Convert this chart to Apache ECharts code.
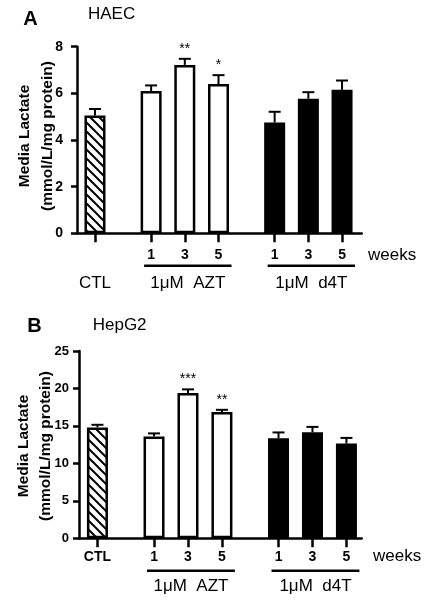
<!DOCTYPE html>
<html>
<head>
<meta charset="utf-8">
<script src="https://cdn.jsdelivr.net/npm/echarts@6/dist/echarts.min.js"></script>
<style>
html,body{margin:0;padding:0;background:#fff;}
#chart{width:433px;height:608px;}
</style>
</head>
<body>
<div id="chart"></div>
<script>
// ---- data ----
const categories = ['CTL', '1', '3', '5', '1', '3', '5'];
const groups = ['CTL', 'AZT', 'AZT', 'AZT', 'd4T', 'd4T', 'd4T'];
const groupLabels = {AZT: '1\u03bcM  AZT', d4T: '1\u03bcM  d4T'};
const haecMean = [5.05, 6.1, 7.22, 6.4, 4.75, 5.77, 6.15];
const haecSem = [0.28, 0.24, 0.26, 0.38, 0.46, 0.28, 0.4];
const haecStars = ['', '', '**', '*', '', '', ''];
const hepMean = [14.8, 13.6, 19.4, 16.85, 13.35, 14.15, 12.65];
const hepSem = [0.35, 0.4, 0.48, 0.3, 0.78, 0.72, 0.75];
const hepStars = ['', '', '***', '**', '', '', ''];
const haecTicks = [0, 2, 4, 6, 8];
const hepTicks = [0, 5, 10, 15, 20, 25];

// ---- layout helpers ----
const FONT = '"Liberation Sans", Arial, Helvetica, sans-serif';
const GROUP_GAP = 5, STEP = 3;
const pos = [];
groups.forEach((g, i) => {
  if (i === 0) { pos.push(0); return; }
  const prev = pos[i - 1];
  pos.push(groups[i] === groups[i - 1] ? prev + STEP : prev + GROUP_GAP);
});

const hatch = document.createElement('canvas');
hatch.width = 9; hatch.height = 9;
(function () {
  const c = hatch.getContext('2d');
  c.fillStyle = '#fff'; c.fillRect(0, 0, 9, 9);
  c.strokeStyle = '#000'; c.lineWidth = 2;
  [-9, 0, 9].forEach(k => { c.beginPath(); c.moveTo(-1, k - 1); c.lineTo(10, k + 10); c.stroke(); });
})();

function styleFor(g) {
  const base = {borderColor: '#000', borderWidth: 2.5};
  if (g === 'CTL') return Object.assign({color: {image: hatch, repeat: 'repeat'}}, base);
  if (g === 'AZT') return Object.assign({color: '#fff'}, base);
  return Object.assign({color: '#000'}, base);
}

function errRender(stars) {
  return function (params, api) {
    const x = api.value(0), y = api.value(1), e = api.value(2), i = api.value(3);
    const b = api.coord([x, y]);
    const t = api.coord([x, y + e]);
    const ch = [
      {type: 'line', shape: {x1: b[0], y1: b[1], x2: t[0], y2: t[1]}, style: {stroke: '#000', lineWidth: 2}},
      {type: 'line', shape: {x1: t[0] - 6, y1: t[1], x2: t[0] + 6, y2: t[1]}, style: {stroke: '#000', lineWidth: 2}}
    ];
    if (stars[i]) {
      ch.push({type: 'text', style: {text: stars[i], x: t[0], y: t[1] - 10, align: 'center', verticalAlign: 'middle',
        font: '14px ' + FONT, fill: '#000'}});
    }
    return {type: 'group', children: ch};
  };
}

function panelSeries(idx, means, sems, stars) {
  return [
    {type: 'bar', xAxisIndex: idx, yAxisIndex: idx, barWidth: 21, z: 2,
      data: means.map((v, i) => ({value: [pos[i], v], itemStyle: styleFor(groups[i])}))},
    {type: 'custom', xAxisIndex: idx, yAxisIndex: idx, z: 3, renderItem: errRender(stars),
      data: means.map((v, i) => [pos[i], v, sems[i], i])}
  ];
}

function xAxisFor(idx, min, max, showCtl, margin) {
  return {
    type: 'value', gridIndex: idx, min: min, max: max,
    splitLine: {show: false},
    axisLine: {onZero: false, lineStyle: {color: '#000', width: 2.5}},
    axisTick: {show: true, customValues: pos, length: 9, lineStyle: {color: '#000', width: 2.5}},
    axisLabel: {customValues: pos, margin: margin, color: '#000', fontFamily: FONT, fontWeight: 'bold', fontSize: 14, lineHeight: 16,
      formatter: v => { const i = pos.indexOf(v); if (i < 0) return ''; if (i === 0 && !showCtl) return ''; return categories[i]; }}
  };
}
function yAxisFor(idx, ticks, margin, fs) {
  return {
    type: 'value', gridIndex: idx, min: ticks[0], max: ticks[ticks.length - 1], interval: ticks[1] - ticks[0],
    splitLine: {show: false},
    axisLine: {show: true, onZero: false, lineStyle: {color: '#000', width: 2.5}},
    axisTick: {show: true, length: 6, lineStyle: {color: '#000', width: 2.5}},
    axisLabel: {margin: margin, color: '#000', fontFamily: FONT, fontWeight: 'bold', fontSize: fs}
  };
}

const chart = echarts.init(document.getElementById('chart'), null, {renderer: 'canvas'});
chart.setOption({
  animation: false,
  backgroundColor: '#fff',
  grid: [
    {left: 77, top: 46.7, width: 284.7, height: 186.6},
    {left: 79, top: 351, width: 282.7, height: 187.3}
  ],
  xAxis: [xAxisFor(0, -1.6, 23.75, false, 13.5), xAxisFor(1, -1.63, 23.35, true, 10.5)],
  yAxis: [yAxisFor(0, haecTicks, 14, 14), yAxisFor(1, hepTicks, 10, 13)],
  series: [].concat(panelSeries(0, haecMean, haecSem, haecStars), panelSeries(1, hepMean, hepSem, hepStars))
});

function txt(text, x, y, size, bold, align) {
  return {type: 'text', x: x, y: y, style: {text: text, font: (bold ? 'bold ' : '') + size + 'px ' + FONT,
    fill: '#000', align: align || 'center', verticalAlign: 'middle'}};
}
const gfx = [];
function annotate(idx, lineY, labY, weeksX, weeksY, ctlBelow, ylabX, ylabY, ylabLH, letter, letterXY, title, titleXY) {
  const px = p => chart.convertToPixel({xAxisIndex: idx}, p);
  ['AZT', 'd4T'].forEach(g => {
    const ids = groups.map((gg, i) => gg === g ? i : -1).filter(i => i >= 0);
    const x1 = px(pos[ids[0]]) - 7, x2 = px(pos[ids[ids.length - 1]]) + 13;
    gfx.push({type: 'line', shape: {x1: x1, y1: lineY, x2: x2, y2: lineY}, style: {stroke: '#000', lineWidth: 2.5}});
    gfx.push(txt(groupLabels[g], (x1 + x2) / 2, labY, 17, false));
  });
  if (ctlBelow) gfx.push(txt('CTL', px(pos[0]), labY, 17, false));
  gfx.push(txt('weeks', weeksX, weeksY, 17, false, 'left'));
  gfx.push({type: 'text', x: ylabX, y: ylabY, rotation: Math.PI / 2,
    style: {text: 'Media Lactate\n(mmol/L/mg protein)', font: 'bold 15.5px ' + FONT, fill: '#000',
      align: 'center', verticalAlign: 'middle', lineHeight: ylabLH}});
  gfx.push(txt(letter, letterXY[0], letterXY[1], 20, true));
  gfx.push(txt(title, titleXY[0], titleXY[1], 17, false, 'left'));
}
annotate(0, 265.7, 283, 368, 255, true, 36.5, 136, 23, 'A', [30.5, 19.5], 'HAEC', [88, 14.5]);
annotate(1, 570.7, 586.7, 373, 556.7, false, 35, 446, 22, 'B', [34.5, 326.7], 'HepG2', [92.7, 325.5]);
chart.setOption({graphic: gfx});
</script>
</body>
</html>
